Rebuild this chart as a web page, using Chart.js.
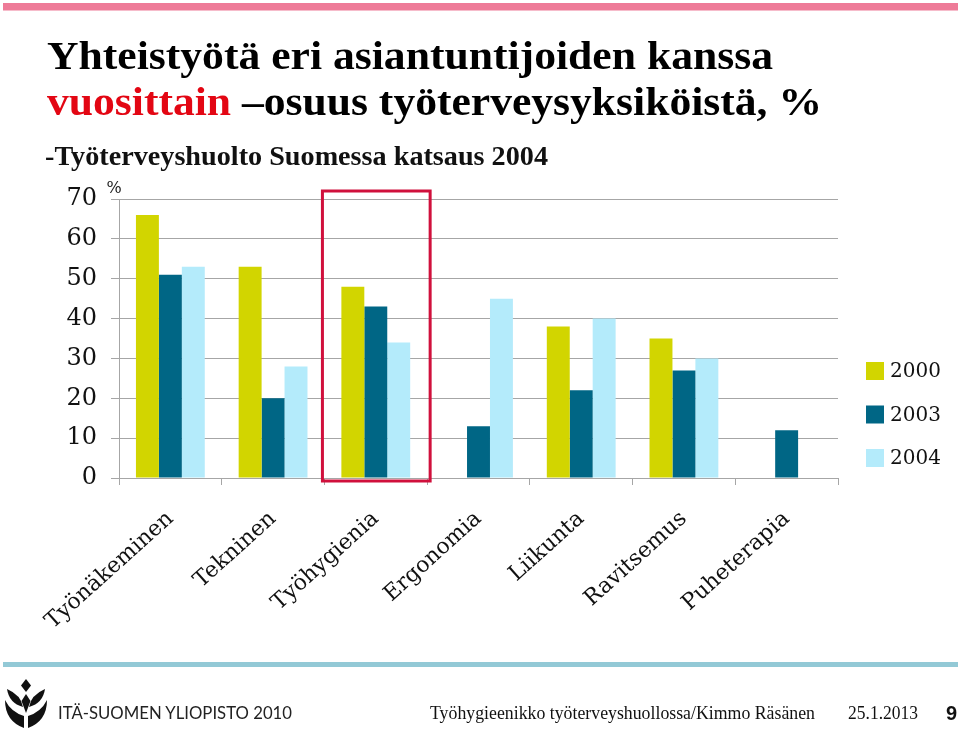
<!DOCTYPE html>
<html>
<head>
<meta charset="utf-8">
<script src="https://cdn.jsdelivr.net/npm/chart.js@4.4.1/dist/chart.umd.min.js"></script>
<style>
  html,body{margin:0;padding:0;background:#fff;}
  #wrap{position:relative;width:960px;height:730px;overflow:hidden;background:#fff;}
  #chart{position:absolute;left:0;top:170px;}
  #deco{position:absolute;left:0;top:0;}
</style>
</head>
<body>
<div id="wrap">
  <canvas id="chart" width="960" height="480"></canvas>
  <svg id="deco" width="960" height="730" xmlns="http://www.w3.org/2000/svg">
    <rect x="3" y="3" width="955" height="7.5" fill="#ee7b98"/>
    <rect x="3" y="662" width="955" height="5" fill="#93c9d6"/>
    <text x="47" y="69" font-family="Liberation Serif" font-weight="bold" font-size="40" fill="#000" textLength="726" lengthAdjust="spacingAndGlyphs">Yhteistyötä eri asiantuntijoiden kanssa</text>
    <text x="47" y="115" font-family="Liberation Serif" font-weight="bold" font-size="40" fill="#000" textLength="775" lengthAdjust="spacingAndGlyphs"><tspan fill="#e30613">vuosittain</tspan> –osuus työterveysyksiköistä, %</text>
    <text x="45" y="165" font-family="Liberation Serif" font-weight="bold" font-size="27" fill="#111" textLength="503" lengthAdjust="spacingAndGlyphs">-Työterveyshuolto Suomessa katsaus 2004</text>
    <g fill="#111">
      <path d="M26 679 L31 685.5 L26 692 L21 685.5 Z"/>
      <path d="M7 689 Q9 703 23 707 Q21 695 7 689 Z"/>
      <path d="M45 689 Q43 703 29 707 Q31 695 45 689 Z"/>
      <path d="M26 694 L21.5 701 L26 713 L30.5 701 Z"/>
      <path d="M5 700 Q5 721 24 728 L24 716 Q11 712 5 700 Z"/>
      <path d="M47 700 Q47 721 28 728 L28 716 Q41 712 47 700 Z"/>
    </g>
    <text x="58" y="719" font-family="Lato" font-size="17" fill="#222" textLength="234" lengthAdjust="spacingAndGlyphs">ITÄ-SUOMEN YLIOPISTO 2010</text>
    <text x="430" y="719" font-family="Liberation Serif" font-size="19" fill="#111" textLength="385" lengthAdjust="spacingAndGlyphs">Työhygieenikko työterveyshuollossa/Kimmo Räsänen</text>
    <text x="848" y="719" font-family="Liberation Serif" font-size="19" fill="#111" textLength="70" lengthAdjust="spacingAndGlyphs">25.1.2013</text>
    <text x="946" y="720" font-family="Liberation Sans" font-weight="bold" font-size="20" fill="#111">9</text>
  </svg>
</div>
<script>
const categories = ['Työnäkeminen','Tekninen','Työhygienia','Ergonomia','Liikunta','Ravitsemus','Puheterapia'];
const seriesNames = ['2000','2003','2004'];
const values2000 = [66, 53, 48, null, 38, 35, null];
const values2003 = [51, 20, 43, 13, 22, 27, 12];
const values2004 = [53, 28, 34, 45, 40, 30, null];
const yTicks = [0, 10, 20, 30, 40, 50, 60, 70];
const highlightCategory = 'Työhygienia';
const unitLabel = '%';

const colors = ['#d2d500', '#006685', '#b4ebfb'];

const decoPlugin = {
  id: 'deco',
  afterDraw(chart) {
    const ctx = chart.ctx;
    const area = chart.chartArea;
    const xs = chart.scales.x;
    const idx = categories.indexOf(highlightCategory);
    const cw = xs.width / categories.length;
    const cx = xs.getPixelForValue(idx);
    ctx.save();
    ctx.strokeStyle = '#d0103c';
    ctx.lineWidth = 3;
    ctx.strokeRect(cx - cw / 2 - 2, area.top - 8, cw + 5, area.bottom - area.top + 11);
    ctx.fillStyle = '#222';
    ctx.font = '16px "DejaVu Serif"';
    ctx.textAlign = 'center';
    ctx.textBaseline = 'alphabetic';
    ctx.fillText(unitLabel, area.left - 5, area.top - 6);
    ctx.font = '20px "DejaVu Serif"';
    ctx.textAlign = 'left';
    ctx.textBaseline = 'middle';
    chart.data.datasets.forEach((ds, i) => {
      const bx = area.right + 28;
      const by = 192 + i * 43.5;
      ctx.fillStyle = ds.backgroundColor;
      ctx.fillRect(bx, by, 18, 18);
      ctx.fillStyle = '#111';
      ctx.fillText(ds.label, bx + 24, by + 10);
    });
    ctx.restore();
  }
};

new Chart(document.getElementById('chart'), {
  type: 'bar',
  data: {
    labels: categories,
    datasets: [
      { label: seriesNames[0], data: values2000, backgroundColor: colors[0] },
      { label: seriesNames[1], data: values2003, backgroundColor: colors[1] },
      { label: seriesNames[2], data: values2004, backgroundColor: colors[2] }
    ]
  },
  options: {
    responsive: false,
    animation: false,
    devicePixelRatio: 1,
    datasets: { bar: { barPercentage: 1, categoryPercentage: 0.67 } },
    layout: { padding: { top: 29, right: 122, left: 0, bottom: 0 } },
    plugins: { legend: { display: false }, tooltip: { enabled: false } },
    scales: {
      x: {
        grid: { display: true, drawOnChartArea: false, drawTicks: true, tickLength: 7, color: '#a6a6a6', offset: true },
        border: { display: true, color: '#a6a6a6' },
        ticks: { font: { family: 'DejaVu Serif', size: 22 }, color: '#111', maxRotation: 42, minRotation: 42, autoSkip: false, padding: 21 },
        afterFit(s) { s.height = 172; }
      },
      y: {
        min: 0, max: 70,
        afterBuildTicks(s) { s.ticks = yTicks.map(v => ({ value: v })); },
        ticks: { font: { family: 'DejaVu Serif', size: 24 }, color: '#111', padding: 14 },
        grid: { color: '#a6a6a6', tickLength: 8 },
        border: { display: true, color: '#a6a6a6' },
        afterFit(s) { s.width = 119; }
      }
    }
  },
  plugins: [decoPlugin]
});
</script>
</body>
</html>
